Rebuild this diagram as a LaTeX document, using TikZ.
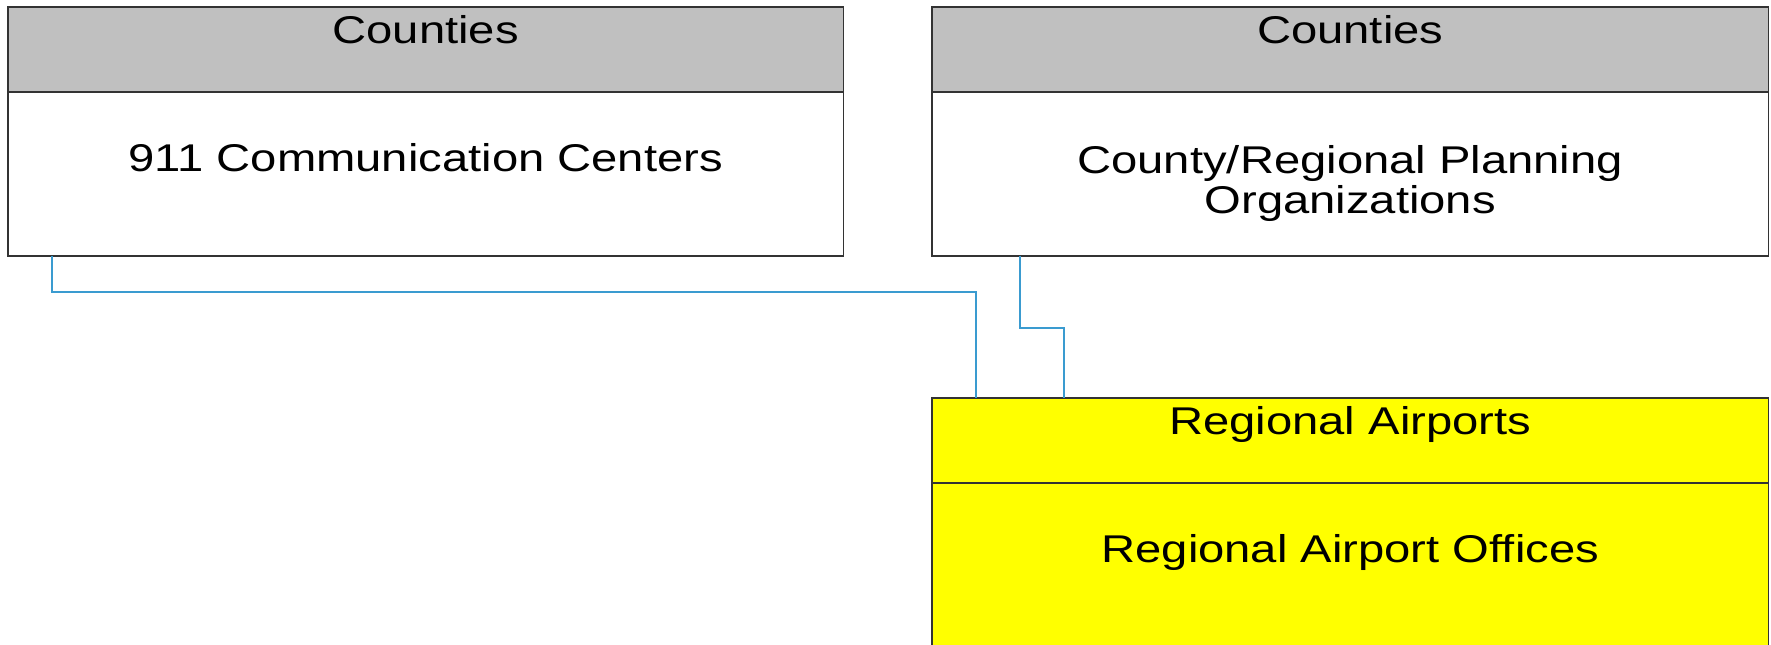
\documentclass[tikz,border=0pt]{standalone}
\usepackage{fontspec}
\setmainfont{Liberation Sans}[FakeStretch=1.22]
\usetikzlibrary{positioning, calc}
\definecolor{cedge}{HTML}{333333}
\definecolor{chead}{HTML}{C0C0C0}
\definecolor{cyellow}{HTML}{FFFF00}
\definecolor{clink}{HTML}{3A9BD0}
\tikzset{
  every picture/.style={font=\fontsize{11}{11.4}\selectfont, line width=0.45pt},
  head/.style={draw=cedge, fill=#1, minimum width=8.36cm, minimum height=0.85cm, inner sep=0pt, outer sep=0pt, anchor=north west},
  head/.default=chead,
  body/.style={draw=cedge, fill=#1, minimum width=8.36cm, minimum height=1.64cm, inner sep=0pt, outer sep=0pt, anchor=north},
  body/.default=white,
  htext/.style={label={[anchor=base, label distance=-0.36cm]north:{#1}}},
  btext/.style={label={[anchor=base, align=center, label distance=-0.79cm]north:{#1}}},
  btwo/.style={label={[anchor=base, align=center, label distance=-1.21cm]north:{#1}}},
  link/.style={draw=clink, line width=0.45pt},
}

\begin{document}
\begin{tikzpicture}[x=0.01cm, y=-0.01cm]
  \useasboundingbox (0,0) rectangle (1771,645);
  \clip (0,0) rectangle (1771,645);
  \node[head, minimum width=8.35cm, htext=Counties] (h1) at (8,7) {};
  \node[body, minimum width=8.35cm, below=0pt of h1, btext=911 Communication Centers] (b1) {};
  \node[head, htext=Counties] (h2) at (932,7) {};
  \node[body, below=0pt of h2, btwo={County/Regional Planning\\Organizations}] (b2) {};
  \node[head=cyellow, htext=Regional Airports] (h3) at (932,398) {};
  \node[body=cyellow, minimum height=2.5cm, below=0pt of h3, btext=Regional Airport Offices] (b3) {};
  % connectors
  \draw[link] ([xshift=0.44cm]b1.south west) -- ++(0,36) -| ([xshift=0.44cm]h3.north west);
  \draw[link] ([xshift=0.88cm]b2.south west) -- ++(0,72) -| ([xshift=1.32cm]h3.north west);
\end{tikzpicture}
\end{document}
